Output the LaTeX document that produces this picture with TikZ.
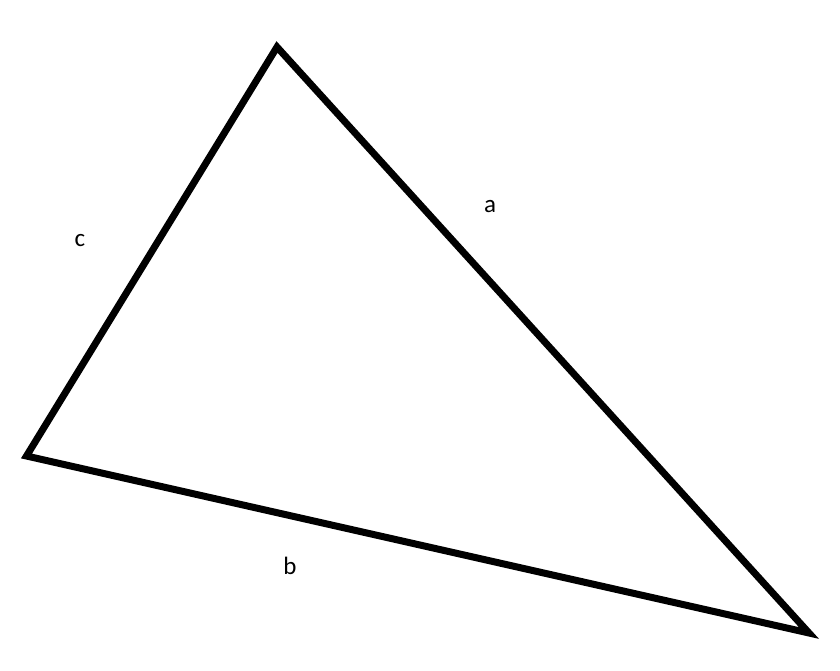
\documentclass[tikz,border=0pt]{standalone}
\usepackage{fontspec}
\setmainfont{Carlito}
\begin{document}
\begin{tikzpicture}[x=1pt,y=-1pt,
  side/.style={draw=black,line width=7pt,line join=miter,fill=white},
  lbl/.style={font=\fontsize{25}{30}\selectfont,inner sep=0pt}]
\useasboundingbox (0,0) rectangle (840,670);
\coordinate (T) at (277,47);
\coordinate (L) at (26.5,456);
\coordinate (R) at (809,633);
\draw[side] (T) -- (L) -- (R) -- cycle;
\node[lbl] (a) at (490,207) {a};
\node[lbl] (b) at (290,566) {b};
\node[lbl] (c) at (80,241) {c};
\end{tikzpicture}
\end{document}
